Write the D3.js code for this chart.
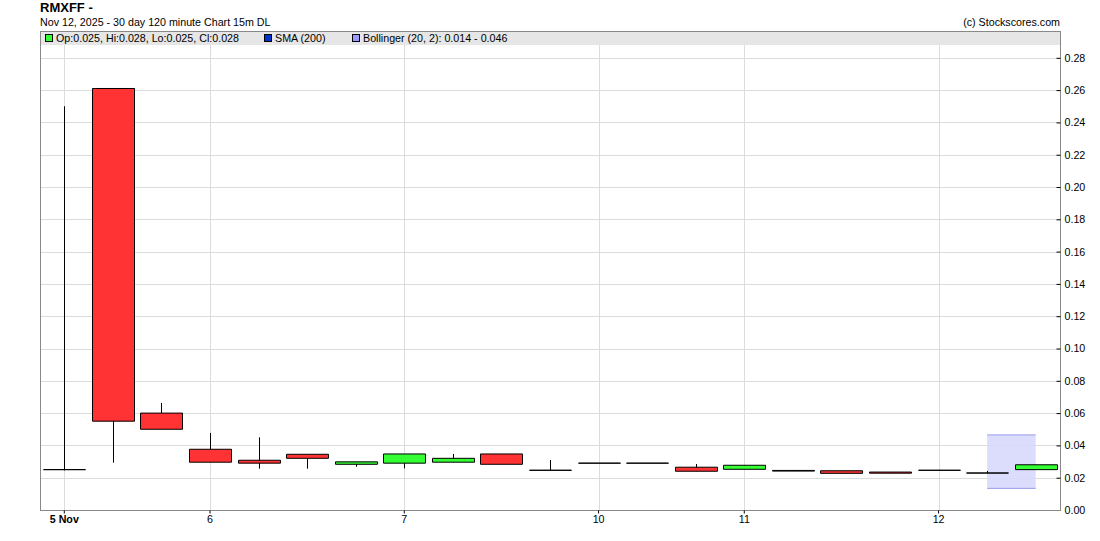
<!DOCTYPE html>
<html>
<head>
<meta charset="utf-8">
<script src="https://cdn.jsdelivr.net/npm/d3@7"></script>
<style>
  body { margin: 0; background: #fff; }
  svg { display: block; font-family: Arial, "Liberation Sans", sans-serif; }
</style>
</head>
<body>
<svg width="1100" height="541"></svg>
<script>
  // one entry per 120 minute bar, day label of the session it belongs to
  const sessions = ["5 Nov", "5 Nov", "5 Nov",
    "6", "6", "6", "6",
    "7", "7", "7", "7",
    "10", "10", "10",
    "11", "11", "11", "11",
    "12", "12", "12"];

  const opens  = [0.025, 0.261, 0.060, 0.0376, 0.0308, 0.0345, 0.0283, 0.029, 0.0296, 0.0347, 0.0246,
    0.029, 0.029, 0.0265, 0.0252, 0.0245, 0.0243, 0.0235, 0.0246, 0.0229, 0.025];
  const highs  = [0.250, 0.261, 0.0663, 0.0477, 0.045, 0.0345, 0.0298, 0.0347, 0.0347, 0.0347, 0.031,
    0.029, 0.029, 0.0285, 0.0277, 0.0245, 0.0243, 0.0235, 0.0246, 0.0242, 0.028];
  const lows   = [0.0245, 0.0293, 0.050, 0.0296, 0.0256, 0.0256, 0.0268, 0.0258, 0.0296, 0.0283, 0.0246,
    0.029, 0.029, 0.024, 0.0252, 0.0241, 0.0227, 0.0228, 0.0246, 0.0229, 0.025];
  const closes = [0.025, 0.055, 0.050, 0.0296, 0.029, 0.032, 0.0298, 0.0347, 0.032, 0.0283, 0.0246,
    0.029, 0.029, 0.024, 0.0277, 0.0241, 0.0227, 0.0228, 0.0246, 0.0229, 0.028];

  // bollinger (20, 2) only exists for the last two bars
  const bollUpper = [null, null, null, null, null, null, null, null, null, null, null,
    null, null, null, null, null, null, null, null, 0.0465, 0.0465];
  const bollLower = [null, null, null, null, null, null, null, null, null, null, null,
    null, null, null, null, null, null, null, null, 0.0134, 0.0134];

  const yTicks = [0, 0.02, 0.04, 0.06, 0.08, 0.10, 0.12, 0.14, 0.16, 0.18, 0.20, 0.22, 0.24, 0.26, 0.28];

  const legendItems = [
    { label: "Op:0.025, Hi:0.028, Lo:0.025, Cl:0.028", color: "#33ff33", x: 45 },
    { label: "SMA (200)", color: "#0033cc", x: 264 },
    { label: "Bollinger (20, 2): 0.014 - 0.046", color: "#9999ff", x: 352 }
  ];

  const bars = opens.map((o, i) => ({
    i, o, h: highs[i], l: lows[i], c: closes[i], day: sessions[i]
  }));

  const svg = d3.select("svg");
  const plotLeft = 40, plotRight = 1060, plotTop = 31, plotBottom = 510;
  const bandH = 14;
  const smallFont = 10.7;

  const x = d3.scaleBand()
    .domain(bars.map(d => d.i))
    .range([plotLeft, plotRight])
    .paddingInner(0.135)
    .paddingOuter(0.0675);
  const xc = i => x(i) + x.bandwidth() / 2;

  const y = d3.scaleLinear()
    .domain([0, 0.2966])
    .range([plotBottom, plotTop]);

  // first bar of each day carries the tick
  const dayStarts = bars.filter((d, i) => i === 0 || sessions[i - 1] !== d.day).map(d => d.i);

  // header texts
  svg.append("text").attr("x", 40).attr("y", 12)
    .attr("font-size", 13).attr("font-weight", "bold").text("RMXFF -");
  svg.append("text").attr("x", 40).attr("y", 26)
    .attr("font-size", smallFont).text("Nov 12, 2025 - 30 day 120 minute Chart 15m DL");
  svg.append("text").attr("x", 1060).attr("y", 26).attr("text-anchor", "end")
    .attr("font-size", smallFont).text("(c) Stockscores.com");

  // legend band
  svg.append("rect").attr("x", plotLeft).attr("y", plotTop)
    .attr("width", plotRight - plotLeft).attr("height", bandH).attr("fill", "#e6e6e6");

  // grid
  svg.append("g").selectAll("line").data(yTicks.slice(1)).join("line")
    .attr("x1", plotLeft).attr("x2", plotRight)
    .attr("y1", d => Math.round(y(d)) + 0.5).attr("y2", d => Math.round(y(d)) + 0.5)
    .attr("stroke", "#dcdcdc");
  svg.append("g").selectAll("line").data(dayStarts).join("line")
    .attr("x1", d => Math.round(xc(d)) + 0.5).attr("x2", d => Math.round(xc(d)) + 0.5)
    .attr("y1", plotTop + bandH).attr("y2", plotBottom)
    .attr("stroke", "#dcdcdc");

  const legend = svg.append("g").attr("font-size", smallFont);
  legend.selectAll("rect").data(legendItems).join("rect")
    .attr("x", d => d.x + 0.5).attr("y", 34.5).attr("width", 7).attr("height", 7)
    .attr("fill", d => d.color).attr("stroke", "#000");
  legend.selectAll("text").data(legendItems).join("text")
    .attr("x", d => d.x + 11).attr("y", 42).text(d => d.label);

  // bollinger band
  const bollData = bars.filter(d => bollUpper[d.i] != null);
  svg.append("path").datum(bollData)
    .attr("fill", "#d8d8fc").attr("fill-opacity", 0.9)
    .attr("d", d3.area().x(d => xc(d.i)).y0(d => y(bollLower[d.i])).y1(d => y(bollUpper[d.i])));
  [bollUpper, bollLower].forEach(arr => {
    svg.append("path").datum(bollData)
      .attr("fill", "none").attr("stroke", "#9999ee")
      .attr("d", d3.line().x(d => xc(d.i)).y(d => y(arr[d.i])));
  });

  // candles: body as a path so a flat bar (open == close) still shows as a line
  const bw = Math.round(x.bandwidth());
  const candles = svg.append("g").selectAll("g").data(bars).join("g");
  candles.append("line")
    .attr("x1", d => Math.round(xc(d.i)) + 0.5).attr("x2", d => Math.round(xc(d.i)) + 0.5)
    .attr("y1", d => y(d.h)).attr("y2", d => y(d.l))
    .attr("stroke", "#000");
  candles.append("path")
    .attr("d", d => {
      const x0 = Math.round(x(d.i)) + 0.5;
      const y0 = y(Math.max(d.o, d.c));
      const hgt = Math.abs(y(d.o) - y(d.c));
      return `M${x0},${y0}h${bw}v${hgt}h${-bw}Z`;
    })
    .attr("fill", d => d.c >= d.o ? "#33ff33" : "#ff3333")
    .attr("stroke", "#000");

  // axes
  const yAxis = svg.append("g").attr("transform", `translate(${plotRight + 0.5},0)`)
    .call(d3.axisRight(y).tickValues(yTicks).tickFormat(d3.format(".2f"))
      .tickSizeInner(-4).tickSizeOuter(0).tickPadding(4));
  yAxis.select(".domain").attr("stroke", "#888").attr("d", `M0,${plotTop}V${plotBottom}`);
  yAxis.selectAll("text").attr("font-size", smallFont).attr("font-family", null).attr("fill", "#000");

  const xAxis = svg.append("g").attr("transform", `translate(0,${plotBottom + 0.5})`)
    .call(d3.axisBottom(x).tickValues(dayStarts).tickFormat(i => sessions[i])
      .tickSizeInner(3).tickSizeOuter(0).tickPadding(2));
  xAxis.select(".domain").attr("stroke", "#888").attr("d", `M${plotLeft},0H${plotRight + 1}`);
  xAxis.selectAll("text").attr("font-size", smallFont).attr("font-family", null).attr("fill", "#000")
    .attr("font-weight", (d, k) => k === 0 ? "bold" : null);

  // left and top frame
  svg.append("line").attr("x1", plotLeft + 0.5).attr("x2", plotLeft + 0.5)
    .attr("y1", plotTop).attr("y2", plotBottom + 1).attr("stroke", "#888");
  svg.append("line").attr("x1", plotLeft).attr("x2", plotRight + 1)
    .attr("y1", plotTop + 0.5).attr("y2", plotTop + 0.5).attr("stroke", "#888");
</script>
</body>
</html>
